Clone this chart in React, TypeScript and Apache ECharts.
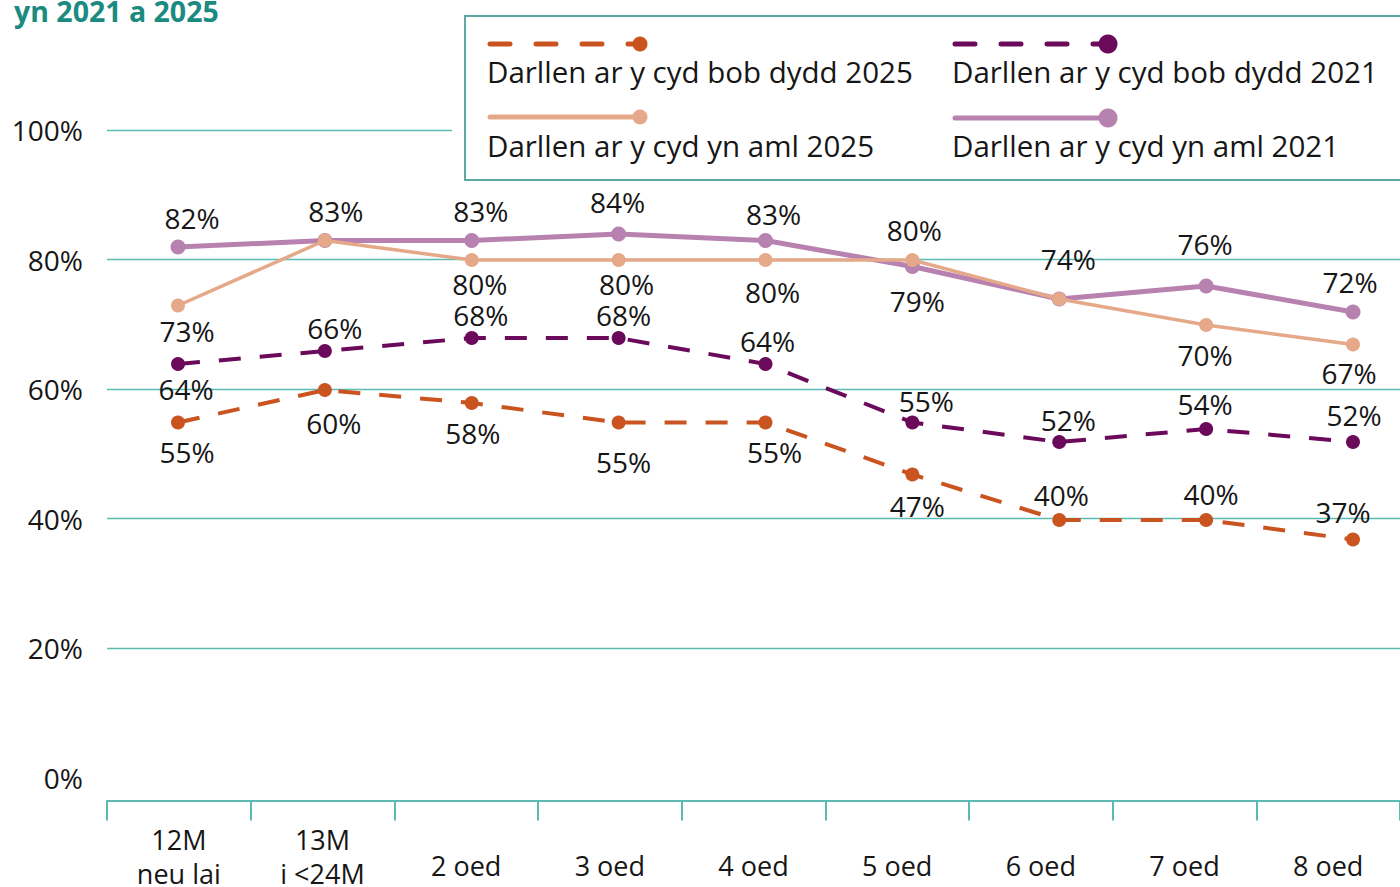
import React, { useEffect, useRef } from 'react';
import * as echarts from 'echarts';

// ---------- data ----------
const CATEGORIES = ['12M\nneu lai', '13M\ni <24M', '2 oed', '3 oed', '4 oed', '5 oed', '6 oed', '7 oed', '8 oed'];
const SERIES_NAMES = [
  'Darllen ar y cyd yn aml 2021',
  'Darllen ar y cyd yn aml 2025',
  'Darllen ar y cyd bob dydd 2021',
  'Darllen ar y cyd bob dydd 2025',
];
const AML_2021 = [82, 83, 83, 84, 83, 79, 74, 76, 72];
const AML_2025 = [73, 83, 80, 80, 80, 80, 74, 70, 67];
const BOB_2021 = [64, 66, 68, 68, 64, 55, 52, 54, 52];
const BOB_2025 = [55, 60, 58, 55, 55, 47, 40, 40, 37];
const Y_MIN = 0;
const Y_MAX = 100;
const Y_STEP = 20;
const TITLE_TEXT = 'yn 2021 a 2025';

// ---------- style config (label placement per point) ----------
const OFF_AML_2021 = [[14, -29], [11, -30], [9, -30], [-1, -32], [8, -27], [5, 34], [9, -40], [-1, -42], [-3, -30]];
const OFF_AML_2025 = [[9, 25], [11, -30], [8, 24], [8, 24], [7, 32], [2, -30], [9, -40], [-1, 30], [-4, 28]];
const HIDE_AML_2025 = [1, 6];
const OFF_BOB_2021 = [[8, 25], [10, -23], [9, -23], [5, -23], [2, -23], [14, -22], [9, -22], [-1, -25], [1, -27]];
const OFF_BOB_2025 = [[9, 29], [9, 33], [1, 30], [5, 39], [9, 29], [5, 31], [2, -25], [5, -26], [-10, -28]];

const C_AML_2021 = '#b882b0';
const C_AML_2025 = '#e5a98a';
const C_BOB_2021 = '#6b0a5b';
const C_BOB_2025 = '#c9541f';
const TEAL = '#5cbab2';
const LEGEND_BORDER = '#5ea9a3';
const TITLE_COLOR = '#1b8a80';
const TEXT = '#161616';
const FONT = '"Open Sans", sans-serif';
const DASH = [22, 19];

function buildData(values: number[], offsets: number[][], hidden: number[] = []) {
  return values.map((v, i) => ({
    value: v,
    label: { offset: offsets[i], show: !hidden.includes(i) },
  }));
}

const labelBase = {
  show: true,
  position: 'inside',
  formatter: '{c}%',
  fontSize: 28,
  fontFamily: FONT,
  color: TEXT,
  align: 'center',
  verticalAlign: 'middle',
};

export default function App() {
  const ref = useRef<HTMLDivElement>(null);

  useEffect(() => {
    const chart = echarts.init(ref.current!, null, { renderer: 'svg' });

    const legendItems = [
      { name: SERIES_NAMES[3], color: C_BOB_2025, dash: true, r: 7.5, x: 490, x2: 640, y: 44, tx: 487, ty: 71 },
      { name: SERIES_NAMES[2], color: C_BOB_2021, dash: true, r: 9.5, x: 955, x2: 1108, y: 44, tx: 952, ty: 71 },
      { name: SERIES_NAMES[1], color: C_AML_2025, dash: false, r: 7.5, x: 490, x2: 640, y: 117, tx: 487, ty: 145 },
      { name: SERIES_NAMES[0], color: C_AML_2021, dash: false, r: 9.5, x: 955, x2: 1108, y: 118, tx: 952, ty: 145 },
    ];

    const legendGraphics: any[] = [
      { type: 'rect', z: 20, shape: { x: 452, y: 15, width: 960, height: 166 }, style: { fill: '#ffffff' } },
      {
        type: 'rect', z: 21,
        shape: { x: 465, y: 16, width: 960, height: 164 },
        style: { fill: '#ffffff', stroke: LEGEND_BORDER, lineWidth: 2 },
      },
    ];
    legendItems.forEach((it) => {
      legendGraphics.push({
        type: 'line', z: 22,
        shape: { x1: it.x, y1: it.y, x2: it.x2, y2: it.y },
        style: { stroke: it.color, lineWidth: 5, lineDash: it.dash ? [20, 26] : null, lineCap: 'round' },
      });
      legendGraphics.push({
        type: 'circle', z: 23,
        shape: { cx: it.x2, cy: it.y, r: it.r },
        style: { fill: it.color },
      });
      legendGraphics.push({
        type: 'text', z: 23, x: it.tx, y: it.ty,
        style: { text: it.name, fontSize: 29.5, fontFamily: FONT, fill: TEXT, verticalAlign: 'middle', align: 'left' },
      });
    });

    const option: any = {
      animation: false,
      backgroundColor: '#ffffff',
      textStyle: { fontFamily: FONT },
      grid: [
        { left: 107, width: 1296, top: 130, height: 650 },
        { left: 178, width: 1175, top: 130, height: 650 },
      ],
      xAxis: [
        {
          type: 'category',
          gridIndex: 0,
          data: CATEGORIES,
          boundaryGap: true,
          offset: 23,
          axisLine: { show: true, onZero: false, lineStyle: { color: TEAL, width: 2 } },
          axisTick: { show: true, length: 20, lineStyle: { color: TEAL, width: 2 }, interval: 0 },
          axisLabel: {
            interval: 0,
            margin: 22,
            color: TEXT,
            fontFamily: FONT,
            fontSize: 27,
            formatter: (v: string) => {
              const lines = v.split('\n');
              if (lines.length > 1) return lines.map((l) => `{m|${l}}`).join('\n');
              return `{s|${v}}`;
            },
            rich: {
              m: { fontSize: 27, lineHeight: 34, fontFamily: FONT, color: TEXT },
              s: { fontSize: 27, lineHeight: 86, fontFamily: FONT, color: TEXT },
            },
          },
          splitLine: { show: false },
        },
        {
          type: 'category',
          gridIndex: 1,
          data: CATEGORIES,
          boundaryGap: false,
          show: false,
        },
      ],
      yAxis: [
        {
          type: 'value',
          gridIndex: 0,
          min: Y_MIN,
          max: Y_MAX,
          interval: Y_STEP,
          axisLine: { show: false },
          axisTick: { show: false },
          axisLabel: { formatter: '{value}%', fontSize: 28, fontFamily: FONT, color: TEXT, margin: 24 },
          splitLine: { show: true, showMinLine: false, lineStyle: { color: TEAL, width: 1.3 } },
        },
        {
          type: 'value',
          gridIndex: 1,
          min: Y_MIN,
          max: Y_MAX,
          show: false,
          splitLine: { show: false },
        },
      ],
      series: [
        {
          name: SERIES_NAMES[0],
          type: 'line',
          xAxisIndex: 1,
          yAxisIndex: 1,
          data: buildData(AML_2021, OFF_AML_2021),
          symbol: 'circle',
          symbolSize: 15,
          itemStyle: { color: C_AML_2021 },
          lineStyle: { color: C_AML_2021, width: 5 },
          label: labelBase,
          z: 2,
        },
        {
          name: SERIES_NAMES[1],
          type: 'line',
          xAxisIndex: 1,
          yAxisIndex: 1,
          data: buildData(AML_2025, OFF_AML_2025, HIDE_AML_2025),
          symbol: 'circle',
          symbolSize: 14,
          itemStyle: { color: C_AML_2025 },
          lineStyle: { color: C_AML_2025, width: 3.5 },
          label: labelBase,
          z: 3,
        },
        {
          name: SERIES_NAMES[2],
          type: 'line',
          xAxisIndex: 1,
          yAxisIndex: 1,
          data: buildData(BOB_2021, OFF_BOB_2021),
          symbol: 'circle',
          symbolSize: 14,
          itemStyle: { color: C_BOB_2021 },
          lineStyle: { color: C_BOB_2021, width: 4, type: DASH },
          label: labelBase,
          z: 4,
        },
        {
          name: SERIES_NAMES[3],
          type: 'line',
          xAxisIndex: 1,
          yAxisIndex: 1,
          data: buildData(BOB_2025, OFF_BOB_2025),
          symbol: 'circle',
          symbolSize: 14,
          itemStyle: { color: C_BOB_2025 },
          lineStyle: { color: C_BOB_2025, width: 4, type: DASH },
          label: labelBase,
          z: 5,
        },
      ],
      graphic: [
        {
          type: 'text',
          left: 14,
          top: -4,
          style: { text: TITLE_TEXT, fontSize: 28.5, fontWeight: 'bold', fontFamily: FONT, fill: TITLE_COLOR },
        },
        ...legendGraphics,
      ],
    };

    chart.setOption(option);
    return () => chart.dispose();
  }, []);

  return <div ref={ref} style={{ position: 'fixed', left: 0, top: 0, width: 1400, height: 887 }} />;
}
